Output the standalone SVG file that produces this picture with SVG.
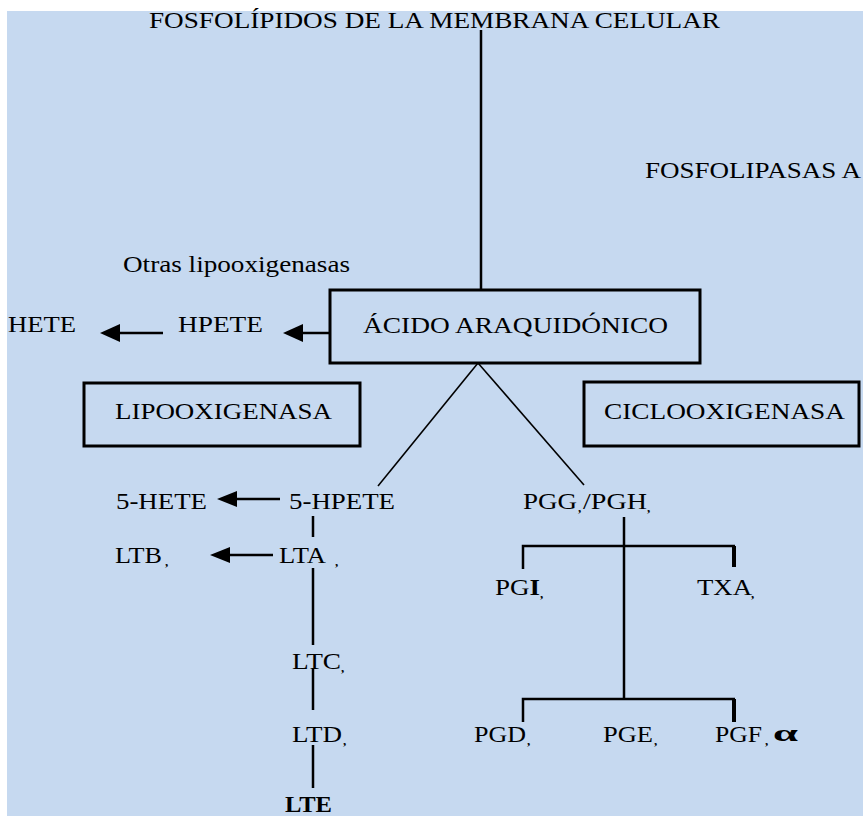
<svg xmlns="http://www.w3.org/2000/svg" width="863" height="816" viewBox="0 0 863 816">
<style>
text{font-family:'Liberation Serif','Times New Roman',Times,serif}
.t{font-size:24px;fill:#000}
.b{font-weight:bold}
.s{font-size:13px;font-weight:bold;fill:#000}
.box{fill:none;stroke:#000;stroke-width:3}
.ln{stroke:#000;stroke-width:2.5;fill:none}
.thin{stroke:#000;stroke-width:1.6;fill:none}
.ah{fill:#000}
</style>
<rect x="0" y="0" width="863" height="816" fill="#ffffff"/>
<rect x="7" y="11" width="856" height="805" fill="#c6d9f0"/>

<g id="connectors">
  <line class="ln" x1="481" y1="30" x2="481" y2="290"/>
  <line class="ln" x1="303" y1="333" x2="330" y2="333"/>
  <polygon class="ah" points="283,333 303,324 303,342"/>
  <line class="ln" x1="120" y1="333" x2="163" y2="333"/>
  <polygon class="ah" points="100,333 120,324 120,342"/>
  <line class="thin" x1="478" y1="363" x2="378" y2="486"/>
  <line class="thin" x1="478" y1="363" x2="584" y2="485"/>
  <line class="ln" x1="237" y1="499" x2="280" y2="499"/>
  <polygon class="ah" points="217,499 237,491 237,507"/>
  <line class="ln" x1="313" y1="516" x2="313" y2="537"/>
  <line class="ln" x1="230" y1="555" x2="273" y2="555"/>
  <polygon class="ah" points="210,555 230,547 230,563"/>
  <line class="ln" x1="313" y1="568" x2="313" y2="645"/>
  <line class="ln" x1="313" y1="668" x2="313" y2="710"/>
  <line class="ln" x1="313" y1="745" x2="313" y2="788"/>
  <line class="ln" x1="624" y1="517" x2="624" y2="699"/>
  <polyline class="ln" points="523,569 523,546 735,546"/>
  <line x1="734" y1="546" x2="734" y2="567" stroke="#000" stroke-width="4"/>
  <polyline class="ln" points="523,722 523,699 735,699"/>
  <line x1="734" y1="699" x2="734" y2="722" stroke="#000" stroke-width="4"/>
</g>

<g id="title"><text class="t" x="149" y="28" textLength="571" lengthAdjust="spacingAndGlyphs">FOSFOLÍPIDOS DE LA MEMBRANA CELULAR</text></g>
<g id="fosfolipasas"><text class="t" x="645" y="178" textLength="216" lengthAdjust="spacingAndGlyphs">FOSFOLIPASAS A</text></g>
<g id="otras"><text class="t" x="123" y="272" textLength="227" lengthAdjust="spacingAndGlyphs">Otras lipooxigenasas</text></g>
<g id="hete"><text class="t" x="8" y="332" textLength="68" lengthAdjust="spacingAndGlyphs">HETE</text></g>
<g id="hpete"><text class="t" x="178" y="332" textLength="85" lengthAdjust="spacingAndGlyphs">HPETE</text></g>
<g id="acido">
  <rect class="box" x="330" y="290" width="370" height="73"/>
  <text class="t" x="363" y="333" textLength="305" lengthAdjust="spacingAndGlyphs">ÁCIDO ARAQUIDÓNICO</text>
</g>
<g id="lipooxigenasa">
  <rect class="box" x="84" y="383" width="276" height="63"/>
  <text class="t" x="115" y="419" textLength="217" lengthAdjust="spacingAndGlyphs">LIPOOXIGENASA</text>
</g>
<g id="ciclooxigenasa">
  <rect class="box" x="584" y="382" width="275" height="64"/>
  <text class="t" x="604" y="419" textLength="241" lengthAdjust="spacingAndGlyphs">CICLOOXIGENASA</text>
</g>
<g id="hete5"><text class="t" x="116" y="509" textLength="91" lengthAdjust="spacingAndGlyphs">5-HETE</text></g>
<g id="hpete5"><text class="t" x="289" y="509" textLength="106" lengthAdjust="spacingAndGlyphs">5-HPETE</text></g>
<g id="ltb"><text class="t" x="115" y="563" textLength="47" lengthAdjust="spacingAndGlyphs">LTB</text><text class="s" x="165" y="566">,</text></g>
<g id="lta"><text class="t" x="279" y="563" textLength="47" lengthAdjust="spacingAndGlyphs">LTA</text><text class="s" x="335" y="566">,</text></g>
<g id="ltc"><text class="t" x="292" y="669" textLength="49" lengthAdjust="spacingAndGlyphs">LTC</text><text class="s" x="341" y="672">,</text></g>
<g id="ltd"><text class="t" x="292" y="742" textLength="50" lengthAdjust="spacingAndGlyphs">LTD</text><text class="s" x="343" y="745">,</text></g>
<g id="lte"><text class="t b" x="285" y="812" textLength="47" lengthAdjust="spacingAndGlyphs">LTE</text></g>
<g id="pgg">
  <text class="t" x="523" y="509" textLength="54" lengthAdjust="spacingAndGlyphs">PGG</text><text class="s" x="578" y="512">,</text>
  <text class="t" x="583" y="509" textLength="64" lengthAdjust="spacingAndGlyphs">/PGH</text><text class="s" x="647" y="512">,</text>
</g>
<g id="pgi"><text class="t" x="495" y="595" textLength="45" lengthAdjust="spacingAndGlyphs">PG<tspan font-weight="bold">I</tspan></text><text class="s" x="540" y="598">,</text></g>
<g id="txa"><text class="t" x="697" y="595" textLength="55" lengthAdjust="spacingAndGlyphs">TXA</text><text class="s" x="751" y="598">,</text></g>
<g id="pgd"><text class="t" x="474" y="742" textLength="52" lengthAdjust="spacingAndGlyphs">PGD</text><text class="s" x="527" y="745">,</text></g>
<g id="pge"><text class="t" x="603" y="742" textLength="50" lengthAdjust="spacingAndGlyphs">PGE</text><text class="s" x="654" y="745">,</text></g>
<g id="pgf"><text class="t" x="715" y="742" textLength="47" lengthAdjust="spacingAndGlyphs">PGF</text><text class="s" x="765" y="745">,</text><text class="t b" x="773" y="741" font-size="36" textLength="25" lengthAdjust="spacingAndGlyphs">α</text></g>
</svg>
